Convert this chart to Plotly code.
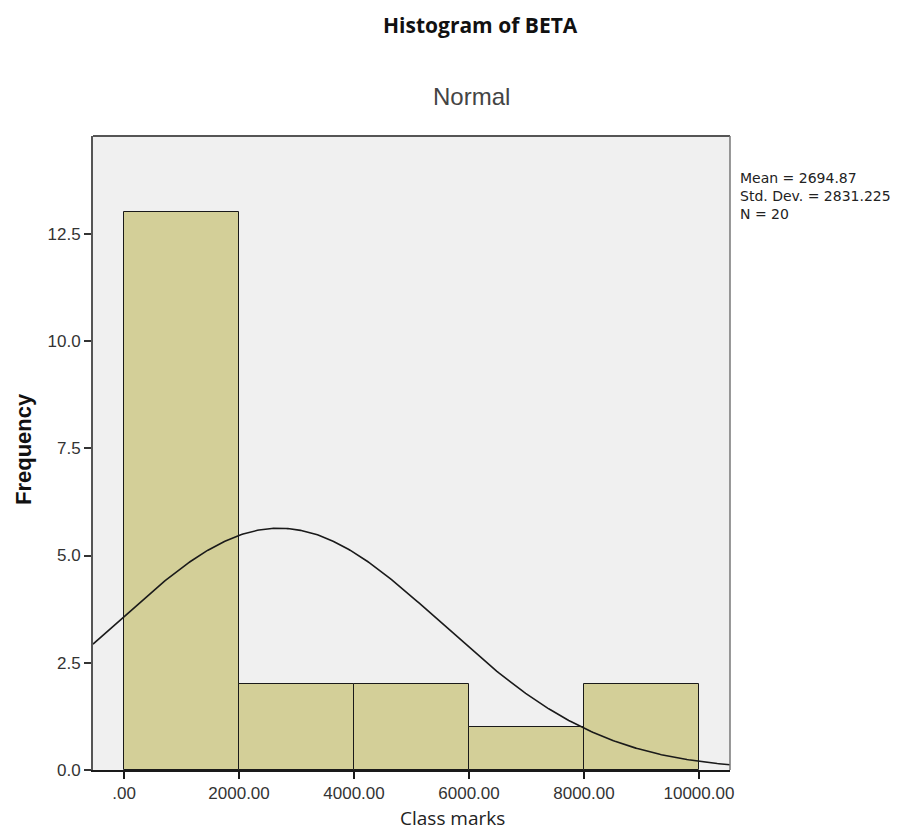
import numpy as np
import plotly.graph_objects as go

# Data
bin_edges = [0, 2000, 4000, 6000, 8000, 10000]
counts = [13, 2, 2, 1, 2]
mean_val = 2694.87
std_val = 2831.225
n_val = 20
x_tickvals = [0, 2000, 4000, 6000, 8000, 10000]
x_ticktext = [".00", "2000.00", "4000.00", "6000.00", "8000.00", "10000.00"]
y_tickvals = [0, 2.5, 5.0, 7.5, 10.0, 12.5]
y_ticktext = ["0.0", "2.5", "5.0", "7.5", "10.0", "12.5"]

x_range = [-540, 10540]
y_range = [0, 14.78]

centers = [(bin_edges[i] + bin_edges[i + 1]) / 2 for i in range(len(counts))]
widths = [bin_edges[i + 1] - bin_edges[i] for i in range(len(counts))]

# Fitted normal curve from the displayed statistics (scaled to counts)
bw = widths[0]
xc = np.linspace(x_range[0], x_range[1], 400)
yc = n_val * bw / (std_val * np.sqrt(2 * np.pi)) * np.exp(-0.5 * ((xc - mean_val) / std_val) ** 2)

# plot area in screen pixels (page has 8px body margin)
PL, PR, PT, PB = 93, 730, 136, 770
PW, PH = PR - PL, PB - PT


def px(x):
    return (x - PL) / PW


def py(y):
    return (PB - y) / PH


fig = go.Figure()
fig.add_trace(go.Bar(
    x=centers, y=counts, width=widths,
    marker=dict(color="#D3CF98", line=dict(color="#1a1a1a", width=1)),
    hoverinfo="skip", showlegend=False,
))
fig.add_trace(go.Scatter(
    x=xc, y=yc, mode="lines", line=dict(color="#1a1a1a", width=1.6),
    hoverinfo="skip", showlegend=False,
))

tick_font = dict(family="Liberation Sans, Arial", size=17, color="#333333")

annotations = [
    dict(text="<b>Histogram of BETA</b>", x=px(480), y=py(25),
         font=dict(family="Open Sans", size=21, color="#111111")),
    dict(text="Normal", x=px(471.5), y=py(97),
         font=dict(family="Liberation Sans, Arial", size=24, color="#444444")),
    dict(text="Class marks", x=px(452.5), y=py(818),
         font=dict(family="Open Sans", size=19, color="#222222")),
    dict(text="<b>Frequency</b>", x=px(23), y=py(449), textangle=-90,
         font=dict(family="Liberation Sans, Arial", size=22, color="#111111")),
    dict(text=f"Mean = {mean_val}<br>Std. Dev. = {std_val}<br>N = {n_val}",
         x=px(738), y=py(196), xanchor="left", align="left",
         font=dict(family="DejaVu Sans", size=14, color="#222222")),
]

for a in annotations:
    a.setdefault("xanchor", "center")
    a.update(xref="paper", yref="paper", yanchor="middle", showarrow=False)

fig.update_layout(
    width=897, height=824,
    margin=dict(l=PL - 8, r=897 - (PR - 8), t=PT - 8, b=824 - (PB - 8)),
    paper_bgcolor="white", plot_bgcolor="#F0F0F0",
    bargap=0,
    xaxis=dict(
        range=x_range, tickvals=x_tickvals, ticktext=x_ticktext,
        showgrid=False, zeroline=False, showline=True, linecolor="#1a1a1a", linewidth=1.5,
        ticks="outside", ticklen=7, tickcolor="#1a1a1a", tickwidth=1.5,
        tickfont=tick_font,
    ),
    yaxis=dict(
        range=y_range, tickvals=y_tickvals, ticktext=y_ticktext,
        showgrid=False, zeroline=False, showline=True, linecolor="#555555", linewidth=2,
        ticks="outside", ticklen=7, tickcolor="#333333", tickwidth=1.5,
        tickfont=tick_font,
    ),
    shapes=[
        dict(type="line", xref="paper", yref="paper", x0=0, x1=1, y0=1, y1=1,
             line=dict(color="#555555", width=2)),
        dict(type="line", xref="paper", yref="paper", x0=1, x1=1, y0=0, y1=1,
             line=dict(color="#777777", width=1.5)),
    ],
    annotations=annotations,
)

fig.write_html("out.html")
